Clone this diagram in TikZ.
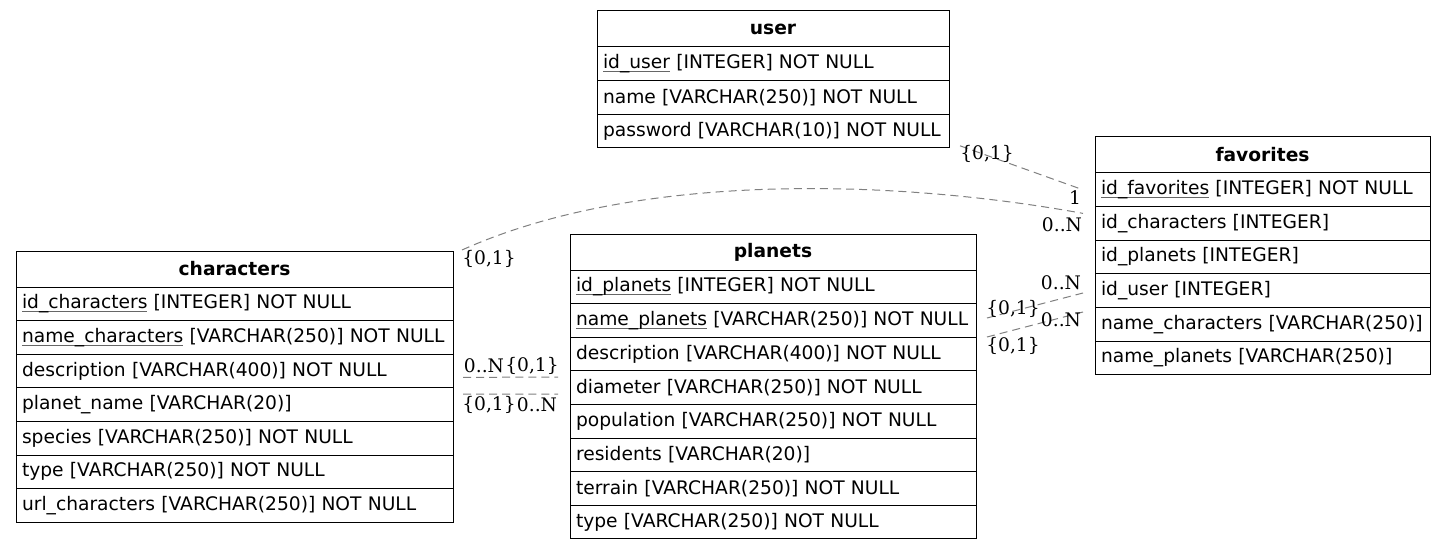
\documentclass[tikz,border=0pt]{standalone}
\usepackage{fontspec}
\setmainfont{DejaVu Sans}
\newfontfamily\lblfamily{DejaVu Serif}
\usetikzlibrary{calc}
\newcommand\pkey[1]{\setbox0=\hbox{#1}\rlap{\color{black!60}\rule[-2.6pt]{\wd0}{0.7pt}}\box0\relax}
\newcommand\ertable[6]{%
  \pgfmathsetlengthmacro\tw{#4*0.75pt-9pt}%
  \node[hdr, text width=\tw] (#1) at (#2,#3) {#5};
  \foreach \r [count=\i] in {#6} {
    \node[row, text width=\tw] (#1-\i) at ({#2},{#3+36+(\i-1)*33.6}) {\r};
  }%
}
\begin{document}
\begin{tikzpicture}[x=0.75pt, y=-0.75pt,
  hdr/.style={draw=black, line width=0.75pt, anchor=north west, outer sep=0pt,
    inner xsep=4.5pt, inner ysep=0pt, minimum height=27pt, align=center,
    font=\fontsize{14pt}{16pt}\selectfont\bfseries},
  row/.style={draw=black, line width=0.75pt, anchor=north west, outer sep=0pt,
    inner xsep=4.5pt, inner ysep=0pt, minimum height=25.2pt, align=left,
    font=\fontsize{14pt}{16pt}\selectfont},
  rel/.style={draw=black!50, line width=0.75pt, dash pattern=on 6pt off 3.8pt},
  lbl/.style={inner sep=0pt, font=\lblfamily\fontsize{14pt}{16pt}\selectfont}]
\fill[white] (0,0) rectangle (1445,549);
\useasboundingbox (0,0) rectangle (1445,549);

\ertable{user}{597}{11}{352}{user}{%
  \pkey{id\_user} [INTEGER] NOT NULL,
  name [VARCHAR(250)] NOT NULL,
  password [VARCHAR(10)] NOT NULL}

\ertable{favorites}{1095}{137}{335}{favorites}{%
  \pkey{id\_favorites} [INTEGER] NOT NULL,
  id\_characters [INTEGER],
  id\_planets [INTEGER],
  id\_user [INTEGER],
  name\_characters [VARCHAR(250)],
  name\_planets [VARCHAR(250)]}

\ertable{characters}{16}{251}{437}{characters}{%
  \pkey{id\_characters} [INTEGER] NOT NULL,
  \pkey{name\_characters} [VARCHAR(250)] NOT NULL,
  description [VARCHAR(400)] NOT NULL,
  planet\_name [VARCHAR(20)],
  species [VARCHAR(250)] NOT NULL,
  type [VARCHAR(250)] NOT NULL,
  url\_characters [VARCHAR(250)] NOT NULL}

\ertable{planets}{570}{234}{406}{planets}{%
  \pkey{id\_planets} [INTEGER] NOT NULL,
  \pkey{name\_planets} [VARCHAR(250)] NOT NULL,
  description [VARCHAR(400)] NOT NULL,
  diameter [VARCHAR(250)] NOT NULL,
  population [VARCHAR(250)] NOT NULL,
  residents [VARCHAR(20)],
  terrain [VARCHAR(250)] NOT NULL,
  type [VARCHAR(250)] NOT NULL}

% connector end points
\coordinate (uf-a) at ($(user-3.south east)+(11,-2)$);
\coordinate (uf-b) at ($(favorites-1.west)+(-12,0)$);
\coordinate (cf-a) at ($(characters.north east)+(9,-1)$);
\coordinate (cf-b) at ($(favorites-2.west)+(-12,-10)$);
\coordinate (cp1-a) at ($(characters-3.east)+(10,6.4)$);
\coordinate (cp1-b) at ($(planets-4.west)+(-12,-10.6)$);
\coordinate (cp2-a) at ($(characters-4.east)+(10,-10.6)$);
\coordinate (cp2-b) at ($(planets-4.west)+(-12,6.4)$);
\coordinate (pf1-a) at ($(planets-2.east)+(11,-2.4)$);
\coordinate (pf1-b) at ($(favorites-4.west)+(-12,2.4)$);
\coordinate (pf2-a) at ($(planets-3.east)+(11,-17)$);
\coordinate (pf2-b) at ($(favorites-4.west)+(-12,21.4)$);

\draw[rel] (uf-a) -- (uf-b);
\draw[rel] (cf-a) .. controls (640,170) and (900,180) .. (cf-b);
\draw[rel] (cp1-a) -- (cp1-b);
\draw[rel] (cp2-a) -- (cp2-b);
\draw[rel] (pf1-a) -- (pf1-b);
\draw[rel] (pf2-a) -- (pf2-b);

% labels
\node[lbl] (l1) at (987,154) {\{0,1\}};
\node[lbl] (l2) at (1075,198) {1};
\node[lbl] (l3) at (489,259) {\{0,1\}};
\node[lbl] (l4) at (1062,225) {0..N};
\node[lbl] (l5) at (484,366) {0..N};
\node[lbl] (l6) at (532,366) {\{0,1\}};
\node[lbl] (l7) at (489,405) {\{0,1\}};
\node[lbl] (l8) at (537,405) {0..N};
\node[lbl] (l9) at (1013,309) {\{0,1\}};
\node[lbl] (l10) at (1061,283) {0..N};
\node[lbl] (l11) at (1061,320) {0..N};
\node[lbl] (l12) at (1013,346) {\{0,1\}};
\end{tikzpicture}
\end{document}
